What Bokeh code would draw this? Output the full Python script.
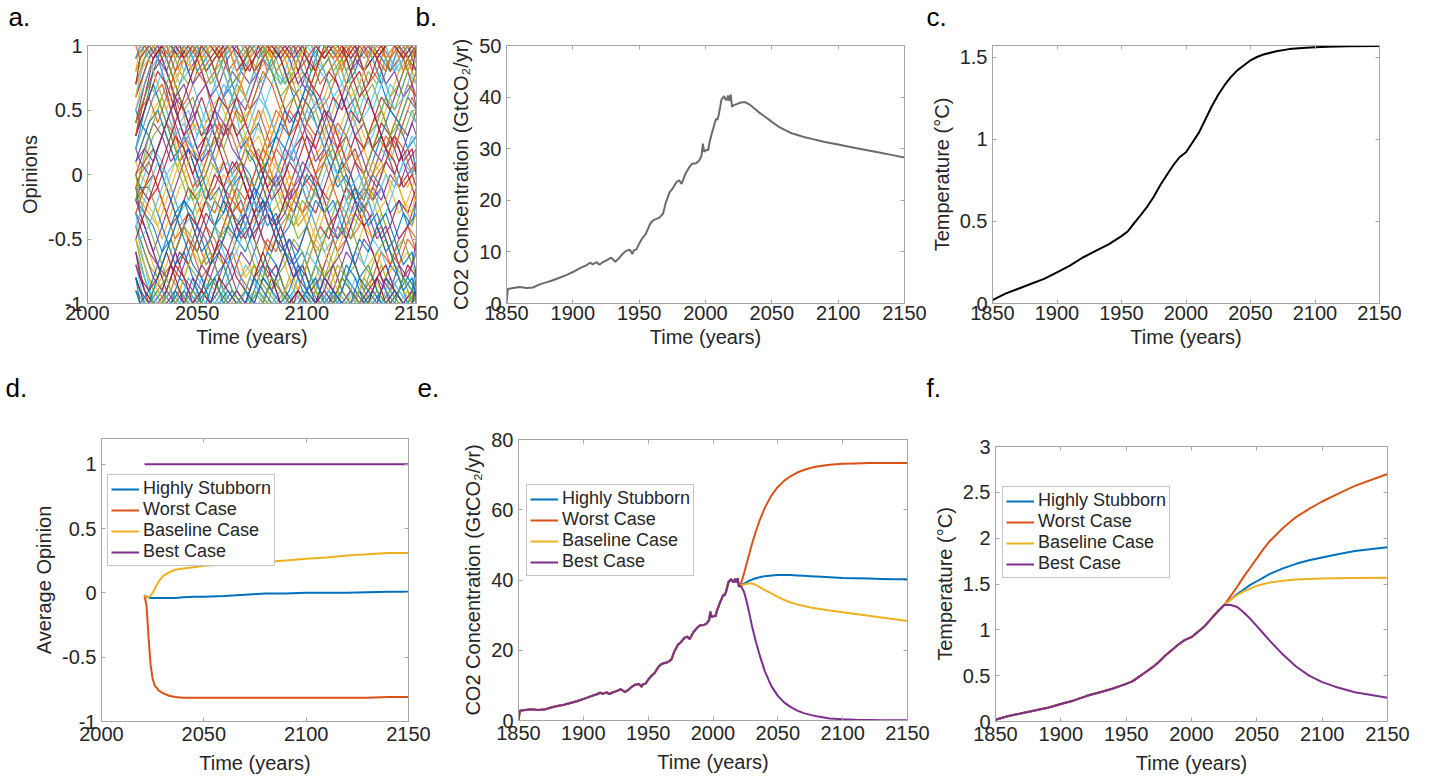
from bokeh.plotting import figure
from bokeh.layouts import column, row
from bokeh.models import LinearAxis, Range1d, Legend, LegendItem, FixedTicker
from bokeh.core.properties import value
from bokeh.embed import file_html
from bokeh.resources import INLINE

FONT = "Liberation Sans"
INK = "#262626"
FRAME = "#a6a6a6"
MATLAB = ["#0072BD", "#D95319", "#EDB120", "#7E2F8E", "#77AC30", "#4DBEEE", "#A2142F"]
C_STUB, C_WORST, C_BASE, C_BEST = MATLAB[0], MATLAB[1], MATLAB[2], MATLAB[3]

# ---------------- data ----------------
# individual agent opinions (tenths); group A sampled on 2022, 2026, ..., 2150
opinion_years_a = [2022, 2026, 2030, 2034, 2038, 2042, 2046, 2050, 2054, 2058, 2062,
                   2066, 2070, 2074, 2078, 2082, 2086, 2090, 2094, 2098, 2102, 2106,
                   2110, 2114, 2118, 2122, 2126, 2130, 2134, 2138, 2142, 2146, 2150]
opinion_tenths_a = [
    [10, 10, 10, 10, 10, 9, 10, 8, 9, 10, 10, 7, 8, 10, 9, 10, 10, 8, 6, 7, 9, 10, 10, 9, 7, 8, 10, 10, 9, 8, 10, 10, 9],
    [9, 10, 10, 9, 7, 5, 6, 8, 7, 4, 3, 5, 7, 9, 10, 10, 8, 9, 10, 9, 7, 5, 6, 8, 9, 10, 10, 8, 7, 9, 10, 8, 6],
    [8, 9, 10, 10, 8, 6, 3, 4, 2, 1, 3, 5, 4, 6, 8, 9, 10, 10, 8, 6, 5, 3, 4, 6, 7, 5, 3, 2, 4, 6, 8, 9, 10],
    [7, 9, 10, 8, 5, 3, 1, -1, 0, 2, 4, 3, 1, -1, -3, -2, 0, 2, 1, 3, 5, 6, 4, 2, 3, 1, -1, -2, 0, 2, 4, 3, 5],
    [6, 8, 10, 10, 10, 9, 10, 10, 8, 9, 10, 10, 10, 9, 8, 10, 9, 7, 8, 10, 10, 9, 10, 10, 8, 9, 10, 10, 10, 8, 9, 10, 10],
    [5, 7, 9, 10, 9, 7, 8, 6, 4, 5, 7, 6, 3, 2, 4, 6, 8, 7, 9, 10, 10, 8, 7, 5, 6, 4, 2, 3, 5, 7, 6, 8, 7],
    [4, 6, 8, 9, 7, 4, 2, 0, -2, -1, 1, -1, -3, -5, -4, -6, -4, -2, -3, -1, 0, -2, -4, -3, -1, 1, 0, 2, 3, 1, -1, 0, -2],
    [3, 5, 8, 10, 10, 10, 9, 10, 10, 8, 6, 7, 5, 3, 4, 2, 3, 5, 4, 6, 8, 10, 10, 9, 10, 10, 8, 9, 7, 5, 4, 6, 5],
    [2, 4, 6, 7, 5, 2, 3, 1, 2, 4, 2, 0, 1, 3, 5, 3, 1, -1, -2, 0, -1, 1, 3, 2, 0, -2, -4, -3, -5, -7, -6, -4, -5],
    [1, 3, 5, 6, 4, 1, -1, -3, -2, 0, 1, -1, -2, -4, -3, -1, 1, 0, -2, -1, 1, 2, 4, 3, 5, 4, 2, 0, 1, -1, -3, -2, 0],
    [0, 2, 4, 3, 1, 2, 4, 5, 3, 4, 6, 8, 7, 5, 6, 8, 10, 10, 9, 7, 6, 8, 9, 7, 5, 3, 4, 2, 1, 3, 2, 0, 1],
    [-1, 1, 3, 4, 2, 0, -2, -1, 1, 3, 2, 4, 3, 1, 2, 0, -1, -3, -4, -2, -3, -5, -4, -6, -8, -7, -9, -10, -10, -9, -8, -10, -9],
    [-2, 0, 2, 1, -1, -3, -2, 0, 2, 1, -1, 0, 2, 4, 6, 5, 3, 4, 2, 0, 1, -1, -3, -2, -4, -3, -1, 0, 2, 1, 3, 5, 4],
    [-2, -1, 0, -2, -4, -3, -1, -2, -4, -6, -5, -3, -4, -2, 0, 1, -1, 0, 2, 3, 1, -1, -2, 0, 1, 3, 2, 4, 6, 5, 7, 9, 8],
    [-2, -3, -4, -6, -5, -7, -5, -6, -4, -2, -3, -1, 1, 0, -2, -4, -3, -5, -7, -6, -8, -6, -4, -5, -3, -1, -2, 0, -1, -3, -2, -4, -3],
    [-3, -4, -6, -8, -7, -5, -3, -4, -2, -3, -1, -2, 0, 2, 1, 3, 5, 4, 6, 4, 3, 1, 2, 0, -2, -1, -3, -5, -4, -6, -7, -5, -6],
    [-3, -5, -7, -9, -10, -10, -9, -10, -8, -9, -10, -10, -8, -7, -9, -10, -10, -9, -8, -10, -9, -7, -8, -10, -10, -9, -10, -8, -9, -10, -10, -9, -10],
    [-4, -6, -8, -9, -7, -8, -6, -4, -5, -7, -9, -8, -6, -7, -5, -3, -4, -6, -8, -7, -9, -10, -10, -8, -6, -7, -5, -6, -8, -9, -7, -8, -6],
    [-5, -7, -9, -10, -10, -9, -7, -8, -6, -4, -5, -3, -4, -6, -8, -9, -10, -10, -9, -7, -5, -6, -4, -2, -3, -5, -7, -8, -10, -9, -10, -10, -8],
    [-6, -8, -10, -10, -9, -10, -10, -8, -9, -10, -9, -7, -8, -10, -10, -9, -8, -10, -10, -9, -10, -8, -9, -7, -8, -10, -10, -9, -10, -8, -9, -10, -10],
    [-7, -9, -10, -10, -8, -6, -7, -5, -3, -4, -2, -3, -5, -4, -6, -8, -7, -9, -10, -8, -6, -4, -5, -3, -1, -2, -4, -3, -5, -4, -2, -3, -1],
    [-8, -10, -10, -9, -10, -8, -9, -10, -10, -8, -7, -9, -10, -10, -9, -7, -8, -6, -7, -9, -10, -10, -9, -10, -8, -9, -10, -10, -9, -7, -8, -10, -9],
    [-9, -10, -10, -10, -9, -7, -5, -6, -4, -5, -7, -6, -8, -9, -7, -5, -6, -4, -2, -3, -1, -2, -4, -6, -5, -7, -9, -8, -6, -7, -5, -4, -6],
    [-10, -10, -9, -8, -6, -4, -5, -3, -1, -2, 0, -1, -3, -2, -4, -6, -5, -7, -9, -10, -10, -8, -9, -7, -8, -6, -4, -5, -3, -5, -7, -6, -8],
    [10, 10, 9, 10, 10, 10, 8, 9, 10, 10, 9, 10, 8, 7, 8, 10, 10, 10, 9, 10, 8, 9, 10, 10, 10, 9, 8, 10, 10, 9, 10, 10, 8],
    [8, 10, 10, 9, 10, 8, 7, 9, 10, 10, 8, 6, 4, 5, 7, 8, 10, 9, 10, 10, 8, 9, 7, 8, 10, 10, 9, 10, 8, 6, 7, 9, 10],
    [6, 9, 10, 8, 6, 4, 5, 3, 5, 7, 9, 10, 8, 9, 7, 5, 3, 1, 2, 0, -2, -1, 1, 0, 2, 4, 6, 5, 7, 9, 8, 10, 9],
    [4, 7, 9, 10, 8, 6, 4, 2, 3, 1, -1, -3, -2, -4, -2, 0, -1, 1, 3, 5, 7, 6, 8, 7, 5, 6, 4, 2, 4, 3, 1, 2, 0],
    [2, 5, 7, 5, 3, 1, 2, 0, -2, -4, -3, -1, 0, -2, -1, 1, 3, 2, 4, 6, 5, 3, 1, -1, 0, -2, -1, 1, 3, 5, 4, 2, 3],
    [0, 1, 2, 0, -2, -4, -3, -5, -7, -6, -4, -2, -3, -1, 1, 0, 2, 1, -1, -3, -2, 0, 2, 4, 3, 1, 2, 4, 5, 3, 5, 7, 6],
    [-1, -2, -3, -5, -3, -1, 0, -2, -1, 1, 3, 5, 4, 2, 3, 1, -1, -2, -4, -3, -5, -3, -1, 0, -2, -3, -1, 1, 0, 2, 0, -1, 1],
    [-2, -4, -6, -4, -2, 0, 2, 1, 3, 5, 4, 2, 1, -1, -3, -2, -4, -3, -1, 0, 2, 4, 5, 3, 1, 2, 0, -2, -1, -3, -5, -4, -2],
    [-3, -1, 1, 3, 5, 7, 9, 10, 10, 8, 9, 7, 8, 10, 10, 9, 7, 5, 6, 4, 6, 8, 9, 10, 10, 8, 6, 7, 5, 3, 4, 6, 8],
    [-4, -7, -10, -10, -9, -10, -8, -9, -10, -10, -9, -10, -10, -8, -9, -10, -10, -9, -7, -8, -10, -10, -9, -10, -10, -8, -9, -10, -10, -9, -8, -10, -10],
    [-6, -9, -10, -9, -7, -5, -3, -4, -2, 0, -1, 1, 0, -2, -4, -3, -5, -6, -8, -7, -9, -8, -6, -4, -5, -3, -4, -6, -8, -10, -9, -7, -8],
    [-8, -10, -10, -10, -10, -9, -10, -10, -9, -8, -10, -9, -10, -10, -8, -6, -7, -9, -10, -10, -8, -9, -10, -9, -7, -8, -10, -9, -10, -10, -9, -8, -9],
    [9, 10, 10, 10, 9, 10, 10, 9, 7, 8, 10, 10, 9, 10, 10, 8, 9, 10, 10, 10, 9, 7, 8, 9, 10, 10, 10, 9, 10, 8, 9, 10, 10],
    [5, 8, 10, 9, 7, 8, 10, 10, 9, 10, 8, 6, 7, 9, 8, 10, 10, 9, 7, 8, 6, 5, 7, 8, 10, 9, 10, 10, 8, 9, 10, 10, 9],
    [1, 2, 1, 3, 5, 6, 4, 6, 7, 5, 3, 4, 2, 3, 1, -1, 0, -2, -1, 1, 0, -1, -3, -5, -4, -2, -3, -1, -2, 0, -1, 1, 2],
    [-5, -8, -10, -10, -8, -9, -10, -10, -8, -6, -7, -9, -10, -10, -9, -10, -8, -7, -5, -6, -8, -10, -10, -9, -10, -10, -8, -9, -7, -9, -10, -10, -9],
    [-7, -10, -10, -9, -10, -10, -9, -10, -8, -6, -4, -5, -3, -5, -7, -8, -10, -10, -9, -10, -8, -9, -10, -10, -8, -6, -7, -5, -6, -8, -9, -10, -10],
    [3, 6, 9, 10, 10, 9, 10, 10, 8, 9, 10, 10, 9, 8, 10, 10, 9, 10, 10, 8, 7, 9, 10, 10, 9, 10, 8, 9, 10, 10, 10, 9, 10],
]
# group B sampled on 2022, 2024, 2028, ..., 2148, 2150
opinion_years_b = [2022, 2024, 2028, 2032, 2036, 2040, 2044, 2048, 2052, 2056, 2060,
                   2064, 2068, 2072, 2076, 2080, 2084, 2088, 2092, 2096, 2100, 2104,
                   2108, 2112, 2116, 2120, 2124, 2128, 2132, 2136, 2140, 2144, 2148, 2150]
opinion_tenths_b = [
    [9, 10, 10, 9, 8, 10, 9, 7, 8, 6, 7, 9, 10, 10, 8, 9, 10, 10, 9, 7, 8, 10, 9, 10, 10, 8, 9, 10, 10, 9, 10, 8, 9, 10],
    [7, 8, 10, 10, 9, 7, 5, 6, 4, 2, 3, 5, 7, 6, 8, 10, 9, 7, 8, 6, 4, 5, 3, 1, 2, 4, 6, 8, 7, 9, 10, 10, 8, 9],
    [5, 6, 8, 9, 10, 10, 8, 9, 10, 10, 9, 7, 5, 6, 8, 7, 9, 10, 10, 8, 9, 10, 10, 9, 7, 6, 4, 5, 7, 9, 8, 10, 10, 9],
    [3, 4, 6, 8, 7, 5, 3, 4, 6, 4, 2, 0, 1, -1, -3, -2, -4, -3, -1, 1, 3, 2, 4, 6, 5, 7, 8, 6, 4, 2, 3, 1, 2, 0],
    [1, 2, 4, 5, 3, 1, 3, 2, 0, -2, -1, -3, -5, -4, -2, 0, 2, 4, 3, 5, 7, 6, 4, 2, 0, -1, -3, -2, -4, -6, -5, -3, -4, -2],
    [-1, 0, 1, -1, -3, -5, -4, -6, -8, -7, -5, -3, -1, -2, 0, 2, 1, 3, 5, 4, 2, 0, 1, -1, -3, -5, -4, -2, 0, 1, 3, 2, 0, 1],
    [-2, -2, -3, -4, -2, 0, 2, 4, 3, 5, 6, 4, 2, 3, 1, -1, -3, -2, 0, -2, -4, -6, -5, -7, -5, -3, -4, -2, -1, 1, 0, -2, -3, -1],
    [-3, -4, -6, -7, -9, -10, -10, -9, -7, -8, -6, -7, -9, -10, -10, -8, -9, -7, -5, -6, -4, -6, -8, -9, -10, -10, -9, -10, -8, -9, -10, -10, -9, -10],
    [-4, -5, -7, -8, -6, -4, -2, -3, -1, 1, 0, -2, -4, -3, -5, -7, -9, -8, -10, -10, -9, -7, -8, -6, -4, -5, -3, -1, -2, -4, -6, -5, -7, -6],
    [-6, -7, -9, -10, -10, -9, -10, -10, -8, -9, -10, -10, -9, -7, -8, -10, -10, -9, -10, -8, -6, -7, -9, -10, -10, -9, -10, -10, -8, -9, -10, -10, -10, -9],
    [-8, -9, -10, -10, -9, -7, -8, -10, -9, -7, -5, -6, -8, -9, -10, -10, -8, -9, -10, -9, -10, -10, -8, -7, -9, -10, -10, -9, -8, -10, -9, -10, -10, -9],
    [-10, -10, -10, -9, -10, -10, -9, -10, -10, -8, -9, -10, -10, -9, -10, -8, -9, -10, -10, -10, -9, -10, -8, -9, -10, -10, -9, -10, -10, -8, -9, -10, -10, -10],
    [10, 10, 10, 10, 9, 10, 10, 10, 9, 10, 10, 8, 9, 10, 10, 10, 9, 10, 10, 8, 9, 10, 10, 10, 9, 10, 10, 9, 10, 10, 10, 9, 10, 10],
    [8, 10, 10, 10, 10, 9, 10, 8, 9, 10, 10, 10, 9, 8, 10, 10, 9, 10, 8, 9, 10, 10, 10, 9, 10, 8, 10, 10, 9, 10, 10, 8, 9, 10],
    [6, 7, 9, 10, 8, 6, 7, 5, 3, 4, 2, 4, 6, 5, 7, 9, 8, 6, 4, 5, 3, 1, 2, 4, 6, 8, 10, 10, 9, 7, 8, 6, 7, 5],
    [4, 5, 7, 6, 4, 2, 0, -2, -1, -3, -5, -4, -2, 0, -1, 1, -1, -3, -2, -4, -3, -1, 1, 2, 0, -2, -1, 1, 3, 2, 4, 3, 5, 4],
    [2, 3, 5, 7, 9, 10, 10, 9, 10, 8, 6, 5, 7, 9, 10, 10, 8, 7, 9, 10, 10, 9, 8, 6, 7, 9, 10, 10, 8, 7, 5, 6, 8, 7],
    [0, -1, -2, -1, 1, 3, 2, 0, 2, 4, 6, 5, 3, 4, 2, 0, -2, -1, 1, 0, -2, -3, -1, 1, 3, 5, 4, 6, 4, 2, 1, -1, 0, -1],
    [-2, -1, -1, -3, -5, -7, -6, -8, -10, -10, -9, -7, -5, -6, -4, -2, -3, -5, -4, -2, 0, -1, -3, -2, -4, -6, -8, -7, -9, -10, -10, -8, -9, -7],
    [-3, -2, 0, 2, 4, 3, 1, -1, 0, 2, 4, 3, 5, 4, 2, 1, 3, 5, 7, 6, 4, 3, 5, 4, 2, 0, -2, -1, 1, 3, 2, 4, 6, 5],
    [-5, -6, -8, -9, -10, -10, -8, -6, -7, -5, -3, -4, -6, -8, -7, -9, -10, -10, -8, -9, -7, -5, -6, -8, -10, -10, -9, -7, -6, -8, -7, -9, -10, -8],
    [-7, -8, -10, -10, -10, -9, -10, -8, -9, -10, -10, -10, -9, -10, -8, -7, -8, -10, -10, -9, -10, -10, -8, -9, -10, -9, -10, -10, -10, -8, -9, -10, -9, -10],
    [-9, -10, -10, -9, -8, -6, -4, -5, -7, -6, -8, -10, -10, -9, -7, -8, -6, -4, -3, -5, -4, -6, -8, -7, -9, -10, -10, -8, -6, -5, -7, -8, -10, -10],
    [9, 10, 9, 7, 5, 3, 4, 2, 1, 3, 5, 7, 9, 10, 10, 9, 8, 10, 10, 9, 7, 5, 6, 4, 3, 5, 7, 9, 10, 10, 8, 9, 10, 10],
    [7, 9, 10, 10, 10, 10, 9, 10, 10, 9, 10, 10, 8, 9, 10, 10, 10, 9, 10, 10, 9, 8, 10, 10, 10, 9, 10, 10, 9, 10, 10, 10, 8, 10],
    [5, 4, 3, 1, -1, -3, -2, -4, -6, -5, -3, -1, 0, 2, 1, -1, -3, -5, -7, -6, -4, -2, -3, -1, 1, 0, -2, -4, -3, -5, -7, -9, -8, -10],
    [3, 5, 6, 4, 6, 8, 10, 10, 8, 9, 7, 5, 6, 4, 6, 8, 7, 5, 3, 4, 6, 8, 10, 9, 10, 10, 9, 7, 8, 10, 10, 9, 7, 8],
    [1, 0, -1, -3, -1, 1, 0, 2, 1, -1, -3, -2, 0, 2, 4, 3, 1, 0, -2, -4, -3, -5, -3, -1, 0, 2, 1, -1, -3, -2, 0, -2, -4, -3],
    [-1, -3, -5, -7, -8, -6, -8, -9, -10, -10, -8, -6, -4, -5, -3, -5, -6, -4, -6, -8, -9, -10, -9, -7, -6, -4, -2, -3, -5, -4, -6, -8, -7, -5],
    [-2, 0, 3, 5, 7, 9, 10, 10, 9, 7, 8, 10, 10, 9, 10, 10, 8, 6, 7, 9, 10, 10, 10, 8, 9, 7, 5, 3, 4, 6, 5, 7, 9, 10],
    [-4, -3, -1, 1, 0, -2, -4, -3, -1, -3, -5, -7, -6, -4, -2, -3, -1, 1, 2, 0, -2, -4, -6, -5, -3, -1, 0, -2, -4, -3, -1, 1, 3, 2],
    [-6, -8, -9, -8, -6, -8, -10, -10, -9, -10, -8, -9, -10, -10, -8, -6, -8, -10, -10, -9, -10, -10, -9, -10, -8, -9, -10, -10, -8, -7, -9, -10, -10, -9],
    [-8, -10, -10, -8, -6, -4, -2, -3, -5, -7, -6, -4, -5, -3, -1, -2, -4, -6, -5, -7, -9, -8, -10, -10, -9, -7, -5, -6, -4, -3, -5, -7, -6, -8],
    [10, 9, 10, 10, 10, 8, 9, 10, 10, 10, 9, 10, 10, 10, 8, 9, 10, 10, 9, 10, 10, 10, 9, 10, 8, 10, 10, 10, 9, 8, 10, 10, 10, 9],
    [6, 8, 9, 7, 5, 7, 9, 8, 10, 10, 9, 10, 8, 6, 4, 5, 3, 5, 7, 9, 10, 10, 9, 10, 8, 6, 7, 9, 10, 9, 10, 10, 8, 7],
    [2, 1, 0, 2, 4, 6, 5, 3, 1, 2, 0, -2, -4, -3, -5, -3, -1, 0, -2, -1, 1, 3, 5, 4, 6, 4, 2, 0, -1, 1, 0, 2, 4, 3],
    [0, -2, -4, -6, -8, -10, -10, -9, -10, -8, -9, -10, -10, -10, -9, -10, -8, -9, -10, -10, -10, -9, -10, -10, -8, -9, -10, -10, -9, -10, -10, -8, -9, -10],
    [-3, -5, -4, -2, 0, 1, 3, 2, 4, 2, 0, 1, -1, -3, -2, -4, -2, 0, 1, 3, 5, 4, 2, 1, -1, -3, -2, -4, -2, 0, -1, 1, 0, 2],
    [-5, -4, -2, 0, 2, 4, 6, 8, 10, 10, 9, 10, 10, 8, 9, 10, 10, 9, 7, 8, 10, 10, 9, 10, 10, 8, 6, 7, 9, 10, 10, 9, 10, 10],
    [-9, -10, -9, -7, -5, -3, -5, -7, -8, -10, -10, -9, -10, -10, -8, -9, -10, -10, -9, -7, -8, -10, -10, -9, -10, -10, -8, -9, -10, -10, -9, -10, -10, -8],
]

# historical CO2 emissions (GtCO2/yr)
co2_hist_years = [1850, 1851, 1855, 1860, 1865, 1870, 1875, 1880, 1885, 1890,
                  1895, 1900, 1905, 1910, 1913, 1915, 1918, 1920, 1922, 1925,
                  1929, 1932, 1935, 1937, 1940, 1943, 1945, 1946, 1948, 1950,
                  1952, 1955, 1958, 1960, 1962, 1965, 1968, 1970, 1973, 1975,
                  1978, 1980, 1982, 1985, 1988, 1990, 1993, 1995, 1997, 1998,
                  1999, 2001, 2002, 2003, 2005, 2007, 2008, 2009, 2010, 2011,
                  2012, 2014, 2015, 2016, 2017, 2018, 2019, 2020]
co2_hist = [0.0, 2.8, 3.0, 3.2, 3.0, 3.1, 3.7, 4.1, 4.5, 5.0,
            5.5, 6.1, 6.8, 7.4, 7.9, 7.6, 8.0, 7.5, 7.9, 8.3,
            8.9, 8.1, 8.8, 9.5, 10.2, 10.4, 9.6, 10.3, 10.5, 11.6,
            12.5, 13.5, 15.3, 16.0, 16.3, 16.6, 17.4, 19.5, 21.6, 22.2,
            23.5, 23.9, 23.2, 25.2, 26.5, 27.1, 27.2, 27.6, 28.6, 31.0,
            29.4, 29.8, 29.7, 31.2, 33.2, 35.0, 35.8, 35.6, 36.6, 38.0,
            39.5, 40.2, 39.6, 39.4, 40.3, 39.3, 40.5, 38.1]

# projected CO2 emissions per scenario
proj_years = [2021, 2022, 2024, 2026, 2028, 2030, 2033, 2036, 2040, 2045, 2050, 2055,
              2060, 2065, 2070, 2075, 2080, 2090, 2100, 2110, 2120, 2130, 2140, 2150]
co2_stubborn = [38.4, 38.6, 39.0, 39.4, 39.8, 40.1, 40.5, 40.8, 41.1, 41.3, 41.4, 41.4,
                41.4, 41.3, 41.2, 41.1, 41.0, 40.8, 40.6, 40.5, 40.4, 40.3, 40.2, 40.2]
co2_worst = [38.4, 39.5, 42.0, 44.8, 47.5, 50.2, 53.8, 57.0, 60.6, 64.0, 66.5, 68.3,
             69.6, 70.6, 71.3, 71.9, 72.3, 72.8, 73.1, 73.2, 73.3, 73.3, 73.3, 73.3]
co2_baseline = [38.4, 38.5, 38.7, 38.9, 39.0, 39.0, 38.6, 38.0, 37.1, 36.2, 35.2, 34.3,
                33.6, 33.0, 32.6, 32.2, 31.9, 31.3, 30.8, 30.3, 29.8, 29.3, 28.8, 28.3]
co2_best = [38.4, 38.0, 36.5, 33.8, 30.5, 27.0, 22.5, 18.6, 14.0, 9.8, 7.0, 5.1,
            3.8, 2.8, 2.1, 1.6, 1.2, 0.6, 0.35, 0.2, 0.15, 0.1, 0.1, 0.1]

# temperature anomaly (deg C)
temp_hist_years = [1850, 1860, 1870, 1880, 1890, 1900, 1910, 1920, 1930, 1940, 1950, 1955, 1960,
                   1965, 1970, 1975, 1980, 1985, 1990, 1995, 2000, 2005, 2010, 2015, 2020]
temp_hist = [0.02, 0.06, 0.09, 0.12, 0.15, 0.19, 0.23, 0.28, 0.32, 0.36, 0.41, 0.44, 0.49,
             0.54, 0.59, 0.65, 0.72, 0.78, 0.84, 0.89, 0.92, 0.98, 1.04, 1.12, 1.20]
temp_proj_years = [2025, 2030, 2035, 2040, 2045, 2050, 2055, 2060, 2070, 2080, 2090, 2100, 2110, 2125, 2150]
temp_stubborn = [1.27, 1.33, 1.39, 1.44, 1.49, 1.53, 1.57, 1.61, 1.67, 1.72, 1.76, 1.79, 1.82, 1.86, 1.90]
temp_worst = [1.27, 1.37, 1.47, 1.58, 1.68, 1.78, 1.88, 1.97, 2.11, 2.23, 2.32, 2.40, 2.47, 2.57, 2.70]
temp_baseline = [1.27, 1.33, 1.38, 1.42, 1.45, 1.48, 1.50, 1.515, 1.535, 1.548, 1.555, 1.56, 1.563, 1.566, 1.567]
temp_best = [1.27, 1.27, 1.25, 1.19, 1.12, 1.04, 0.96, 0.88, 0.73, 0.60, 0.50, 0.43, 0.38, 0.32, 0.26]

# average opinion per scenario
avg_years = [2021, 2022, 2023, 2024, 2025, 2026, 2028, 2030, 2033, 2036, 2040, 2045,
             2050, 2060, 2070, 2080, 2090, 2100, 2110, 2120, 2130, 2140, 2150]
avg_stubborn = [-0.02, -0.03, -0.035, -0.04, -0.04, -0.04, -0.04, -0.04, -0.04, -0.04, -0.035, -0.03,
                -0.03, -0.025, -0.015, -0.005, -0.005, 0.0, 0.0, 0.0, 0.005, 0.008, 0.008]
avg_worst = [-0.02, -0.10, -0.35, -0.56, -0.67, -0.72, -0.76, -0.78, -0.80, -0.81, -0.815, -0.815,
             -0.815, -0.815, -0.815, -0.815, -0.815, -0.815, -0.815, -0.815, -0.815, -0.81, -0.81]
avg_baseline = [-0.02, -0.035, -0.035, -0.02, 0.0, 0.03, 0.09, 0.13, 0.16, 0.18, 0.19, 0.20,
                0.21, 0.22, 0.232, 0.24, 0.252, 0.265, 0.275, 0.29, 0.30, 0.31, 0.31]
avg_best = [1.0, 1.0, 1.0, 1.0, 1.0, 1.0, 1.0, 1.0, 1.0, 1.0, 1.0, 1.0,
            1.0, 1.0, 1.0, 1.0, 1.0, 1.0, 1.0, 1.0, 1.0, 1.0, 1.0]

scenario_names = ["Highly Stubborn", "Worst Case", "Baseline Case", "Best Case"]
scenario_colors = [C_STUB, C_WORST, C_BASE, C_BEST]

years_2000 = [2000, 2050, 2100, 2150]
years_1850 = [1850, 1900, 1950, 2000, 2050, 2100, 2150]
panel_letters_top = ["a.", "b.", "c."]
panel_letters_bottom = ["d.", "e.", "f."]


# ---------------- helpers ----------------
def make_panel(width, height, borders, xr, yr, xticks, yticks, ylabel, x_std=(2, 3)):
    left, right, top, bottom = borders
    p = figure(width=width, height=height, x_range=Range1d(*xr), y_range=Range1d(*yr),
               output_backend="svg", toolbar_location=None, tools="", title=None,
               min_border_left=left, min_border_right=right,
               min_border_top=top, min_border_bottom=bottom)
    p.frame_align = False
    p.xgrid.visible = False
    p.ygrid.visible = False
    p.outline_line_color = FRAME
    p.outline_line_width = 1
    top_axis = LinearAxis()
    right_axis = LinearAxis()
    p.add_layout(top_axis, "above")
    p.add_layout(right_axis, "right")
    for ax in list(p.xaxis) + list(p.yaxis):
        ax.axis_line_color = FRAME
        ax.major_tick_line_color = FRAME
        ax.major_tick_in = 4
        ax.major_tick_out = 0
        ax.minor_tick_line_color = None
        ax.major_label_text_font = FONT
        ax.major_label_text_font_size = "20px"
        ax.major_label_text_color = INK
        ax.axis_label_text_font = FONT
        ax.axis_label_text_font_size = "20px"
        ax.axis_label_text_font_style = "normal"
        ax.axis_label_text_color = INK
    p.xaxis.ticker = FixedTicker(ticks=xticks)
    p.yaxis.ticker = FixedTicker(ticks=yticks)
    p.xaxis.major_label_overrides = {t: f"{t:g}" for t in xticks}
    p.yaxis.major_label_overrides = {t: f"{t:g}" for t in yticks}
    # mirrored tick marks on the top and right edges, without labels
    for ax in (top_axis, right_axis):
        ax.major_label_text_color = None
        ax.major_label_text_font_size = "0px"
        ax.major_label_standoff = 0
    bottom_axis = p.below[0]
    bottom_axis.axis_label = "Time (years)"
    bottom_axis.major_label_standoff = x_std[0]
    bottom_axis.axis_label_standoff = x_std[1]
    left_axis = p.left[0]
    left_axis.axis_label = ylabel
    left_axis.major_label_standoff = 5
    left_axis.axis_label_standoff = 4
    return p


def letter_strip(height, xs, baseline, letters):
    s = figure(width=1430, height=height, x_range=Range1d(0, 1430), y_range=Range1d(0, height),
               output_backend="svg", toolbar_location=None, tools="", title=None,
               x_axis_location=None, y_axis_location=None,
               min_border_left=0, min_border_right=0, min_border_top=0, min_border_bottom=0)
    s.frame_align = False
    s.outline_line_color = None
    s.grid.visible = False
    s.text(x=xs, y=[baseline] * len(xs), text=letters, text_font=value(FONT),
           text_font_size=value("26px"), text_color="black",
           text_baseline=value("alphabetic"), text_align=value("left"))
    return s


def add_legend(p, renderers, loc):
    items = [LegendItem(label=n, renderers=[r]) for n, r in zip(scenario_names, renderers)]
    leg = Legend(items=items, location=loc)
    leg.label_text_font = FONT
    leg.label_text_font_size = "18px"
    leg.label_text_color = INK
    leg.glyph_width = 28
    leg.glyph_height = 20
    leg.label_height = 20
    leg.label_standoff = 4
    leg.spacing = 0
    leg.padding = 3
    leg.margin = 0
    leg.border_line_color = "#8c8c8c"
    leg.border_line_width = 1
    leg.background_fill_color = "white"
    leg.background_fill_alpha = 1
    p.add_layout(leg)


# ---------------- panel a: individual opinions ----------------
pa = make_panel(440, 334, (87, 24, 9, 67), (2000, 2150), (-1, 1), years_2000,
                [-1, -0.5, 0, 0.5, 1], "Opinions")
for years, group, shift in ((opinion_years_a, opinion_tenths_a, 0), (opinion_years_b, opinion_tenths_b, 3)):
    ys = [[v / 10 for v in agent] for agent in group]
    xs = [years[:len(agent)] for agent in group]
    cols = [MATLAB[(i + shift) % len(MATLAB)] for i in range(len(group))]
    pa.multi_line(xs, ys, line_color=cols, line_width=1.2, line_alpha=0.85)

# ---------------- panel b: CO2 baseline ----------------
pb = make_panel(487, 334, (66, 23, 9, 67), (1850, 2150), (0, 50), years_1850,
                [0, 10, 20, 30, 40, 50], "CO2 Concentration (GtCO\u2082/yr)")
pb.line(co2_hist_years + proj_years, co2_hist + co2_baseline, line_color="#6b6b6b", line_width=2)

# ---------------- panel c: temperature baseline ----------------
pc = make_panel(503, 334, (59, 51, 9, 67), (1850, 2150), (0, 1.57), years_1850,
                [0, 0.5, 1, 1.5], "Temperature (\u00b0C)")
pc.line(temp_hist_years + temp_proj_years, temp_hist + temp_baseline, line_color="black", line_width=2)

# ---------------- panel d: average opinion ----------------
pd_ = make_panel(440, 374, (101, 32, 28, 63), (2000, 2150), (-1, 1.2), years_2000,
                 [-1, -0.5, 0, 0.5, 1], "Average Opinion", x_std=(5, 8))
d_series = [avg_stubborn, avg_worst, avg_baseline, avg_best]
d_r = [pd_.line(avg_years, s, line_color=c, line_width=2) for s, c in zip(d_series, scenario_colors)]
add_legend(pd_, d_r, (6, 155))

# ---------------- panel e: CO2 scenarios ----------------
pe = make_panel(490, 374, (78, 23, 29, 64), (1850, 2150), (0, 80), years_1850,
                [0, 20, 40, 60, 80], "CO2 Concentration (GtCO\u2082/yr)", x_std=(5, 8))
e_series = [co2_stubborn, co2_worst, co2_baseline, co2_best]
e_r = [pe.line(co2_hist_years + proj_years, co2_hist + s, line_color=c, line_width=2)
       for s, c in zip(e_series, scenario_colors)]
add_legend(pe, e_r, (8, 144))

# ---------------- panel f: temperature scenarios ----------------
pf = make_panel(500, 374, (59, 43, 36, 63), (1850, 2150), (0, 3), years_1850,
                [0, 0.5, 1, 1.5, 2, 2.5, 3], "Temperature (\u00b0C)", x_std=(5, 8))
f_series = [temp_stubborn, temp_worst, temp_baseline, temp_best]
f_r = [pf.line(temp_hist_years + temp_proj_years, temp_hist + s, line_color=c, line_width=2)
       for s, c in zip(f_series, scenario_colors)]
add_legend(pf, f_r, (7, 143))

top_letters = letter_strip(36, [8, 415, 926], 20, panel_letters_top)
bottom_letters = letter_strip(40, [5, 417, 926], 23, panel_letters_bottom)

layout = column(top_letters, row(pa, pb, pc), bottom_letters, row(pd_, pe, pf))
open("out.html", "w").write(file_html(layout, INLINE))
